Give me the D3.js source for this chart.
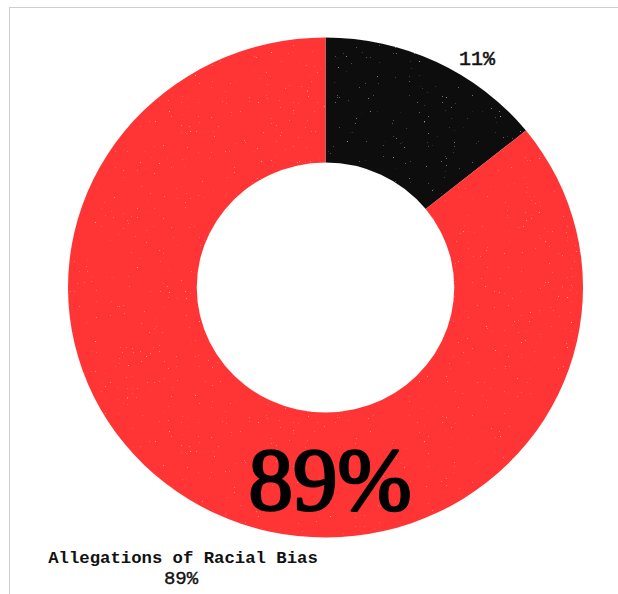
<!DOCTYPE html>
<html>
<head>
<meta charset="utf-8">
<script src="https://cdn.jsdelivr.net/npm/d3@7"></script>
<style>
  html, body { margin: 0; padding: 0; background: #fff; }
  svg { display: block; }
</style>
</head>
<body>
<script>
// ---- data ----
const categories = ["Other", "Allegations of Racial Bias"];
const sliceValues = [14.2, 85.8];          // slice sizes
const percentLabels = ["11%", "89%"];       // printed labels
const sliceColors = ["#111111", "#ff3535"];

const W = 618, H = 594;
const svg = d3.select("body").append("svg").attr("width", W).attr("height", H);

const defs = svg.append("defs");
const f = defs.append("filter").attr("id", "grain").attr("x", 0).attr("y", 0).attr("width", 1).attr("height", 1);
f.append("feTurbulence").attr("type", "fractalNoise").attr("baseFrequency", 0.8).attr("numOctaves", 2).attr("seed", 7).attr("result", "noise");
f.append("feColorMatrix").attr("in", "noise").attr("type", "matrix")
  .attr("values", "0 0 0 0 1  0 0 0 0 1  0 0 0 0 1  9 0 0 0 -6.9").attr("result", "specks");
f.append("feComposite").attr("in", "specks").attr("in2", "SourceGraphic").attr("operator", "in").attr("result", "sp2");
f.append("feComponentTransfer").attr("in", "sp2").attr("result", "sp3")
  .append("feFuncA").attr("type", "linear").attr("slope", 0.35);
const m = f.append("feMerge");
m.append("feMergeNode").attr("in", "SourceGraphic");
m.append("feMergeNode").attr("in", "sp3");

// frame
svg.append("rect").attr("x", 9.5).attr("y", 7.5).attr("width", 700).attr("height", 700)
  .attr("fill", "none").attr("stroke", "#cfcfcf").attr("stroke-width", 1);

const cx = 325.5, cy = 287.5, R = 250, r = 125;
const g = svg.append("g").attr("transform", `translate(${cx},${cy}) scale(1.03,1)`);

const pie = d3.pie().sort(null).value(d => d);
const arc = d3.arc().innerRadius(r).outerRadius(R);
g.append("g").attr("filter", "url(#grain)")
  .selectAll("path").data(pie(sliceValues)).join("path")
  .attr("d", arc).attr("fill", (d, i) => sliceColors[i]);

const mono = "'Liberation Mono', 'Courier New', monospace";
const serif = "'Liberation Serif', 'Times New Roman', serif";

// small label for black slice
svg.append("text").attr("x", 477).attr("y", 65).attr("text-anchor", "middle")
  .attr("font-family", mono).attr("font-size", 20).attr("fill", "#111")
  .attr("stroke", "#111").attr("stroke-width", 0.5)
  .text(percentLabels[0]);

// big label
svg.append("text").attr("x", 330).attr("y", 509).attr("text-anchor", "middle")
  .attr("font-family", serif).attr("font-size", 89).attr("fill", "#000")
  .attr("stroke", "#000").attr("stroke-width", 2.6).attr("stroke-linejoin", "round")
  .text(percentLabels[1]);

// category label
const lab = svg.append("text").attr("text-anchor", "middle")
  .attr("font-family", mono).attr("font-size", 17.3).attr("font-weight", "bold").attr("fill", "#111");
lab.append("tspan").attr("x", 183).attr("y", 562.5).text(categories[1]);
lab.append("tspan").attr("x", 181).attr("y", 584).attr("font-size", 19).attr("font-weight", "normal")
  .attr("stroke", "#111").attr("stroke-width", 0.4).text(percentLabels[1]);
</script>
</body>
</html>
